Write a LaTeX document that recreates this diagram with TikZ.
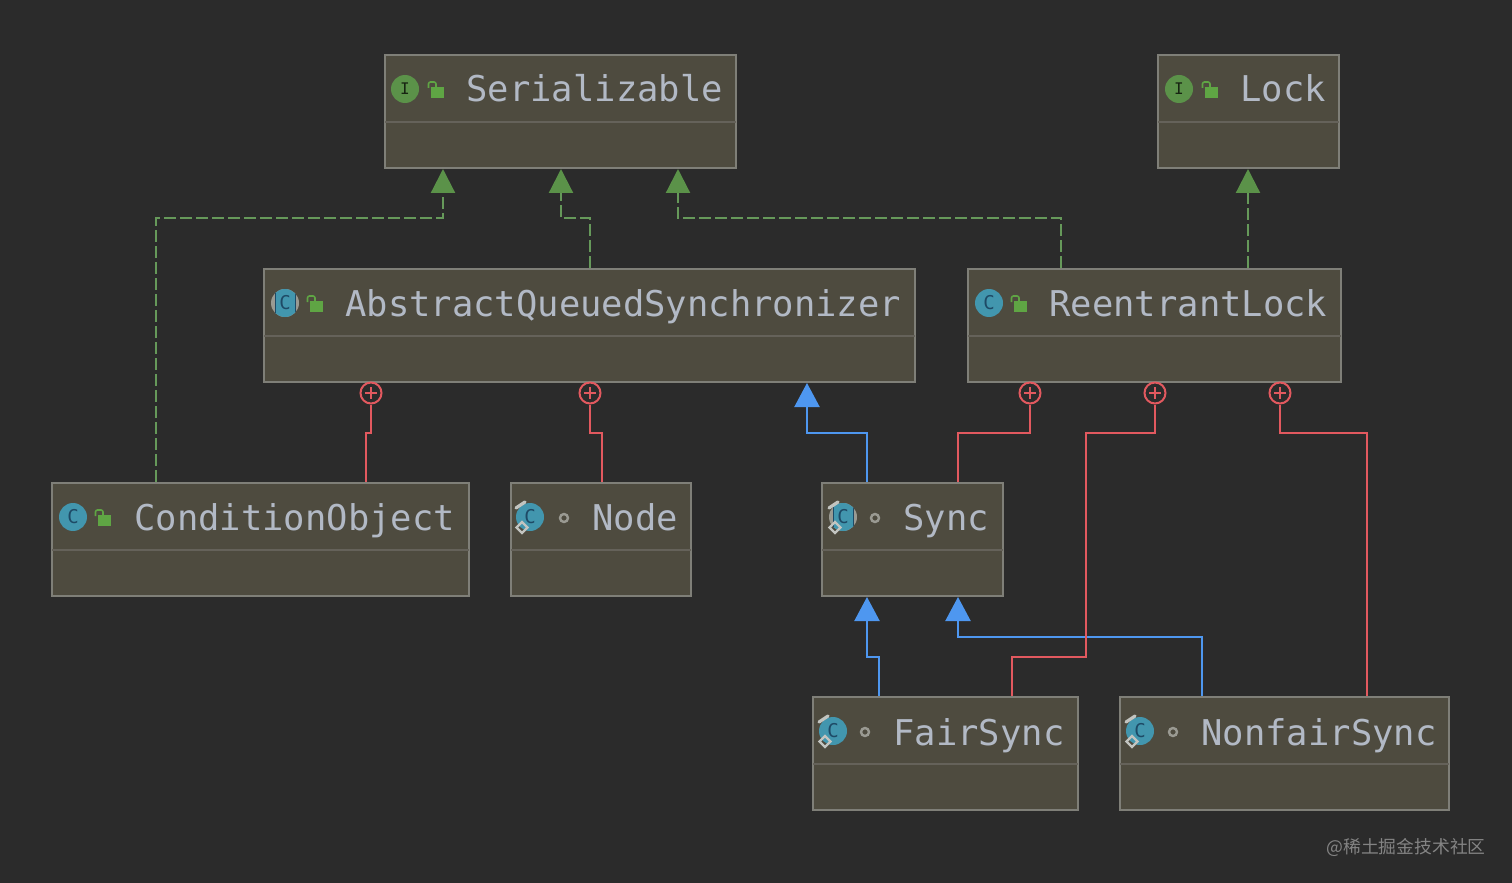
\documentclass[tikz,border=0pt]{standalone}
\usepackage{fontspec}
\setmonofont{DejaVu Sans Mono}
\newfontfamily\cjkfont{Noto Sans CJK SC}
\usetikzlibrary{arrows.meta, calc}
\definecolor{cBack}{HTML}{2B2B2B}
\definecolor{cBox}{HTML}{4E4B3F}
\definecolor{cBorder}{HTML}{7F7F78}
\definecolor{cDivider}{HTML}{65625A}
\definecolor{cText}{HTML}{B2B9C5}
\definecolor{cGreen}{HTML}{5B9249}
\definecolor{cDash}{HTML}{66995A}
\definecolor{cLock}{HTML}{5FA544}
\definecolor{cBlue}{HTML}{4E97F0}
\definecolor{cRed}{HTML}{E2595F}
\definecolor{cTeal}{HTML}{4296AE}
\definecolor{cLetter}{HTML}{1E4A66}
\definecolor{cRing}{HTML}{9A9A92}
\definecolor{cDeco}{HTML}{C2C4C0}
\tikzset{
  classbox/.style={draw=cBorder, fill=cBox, line width=1pt, anchor=north west,
    minimum height=56.5pt, inner sep=0pt},
  classname/.style={anchor=base west, inner sep=0pt, text=cText,
    font=\ttfamily\fontsize{17.75pt}{20pt}\selectfont},
  divider/.style={draw=cDivider, line width=0.7pt},
  implements/.style={draw=cDash, line width=1.1pt, dash pattern=on 6pt off 2pt,
    -{Triangle[length=12pt, width=12pt, fill=cGreen, color=cGreen]}},
  extends/.style={draw=cBlue, line width=1.1pt,
    -{Triangle[length=12pt, width=12.5pt, fill=cBlue]}},
  innerlink/.style={draw=cRed, line width=1.1pt},
  plusmark/.style={circle, draw=cRed, line width=1pt, minimum size=10.5pt, inner sep=0pt,
    path picture={\draw[cRed, line width=0.8pt]
      ($(path picture bounding box.center)+(-6,0)$) -- ($(path picture bounding box.center)+(6,0)$)
      ($(path picture bounding box.center)+(0,-6)$) -- ($(path picture bounding box.center)+(0,6)$);}},
  lockicon/.pic={
    \fill[cLock] (-6,-3) rectangle (7,8);
    \draw[cLock, line width=0.8pt, rounded corners=1pt] (-8.5,-2) -- (-8.5,-8) -- (-1,-8) -- (-1,-3);
  },
  staticicon/.pic={
    \draw[cRing, line width=1.2pt] (0,0) circle (4);
  },
  ifaceicon/.pic={
    \fill[cGreen] (0,0) circle (14);
    \node[inner sep=0pt, text=black!75!cGreen, font=\ttfamily\fontsize{8pt}{8pt}\selectfont] {I};
  },
  classicon/.pic={
    \fill[cTeal] (0,0) circle (14);
    \node[inner sep=0pt, text=cLetter, font=\ttfamily\fontsize{9.5pt}{9.5pt}\selectfont] {C};
  },
  abstracticon/.pic={
    \fill[cRing] (0,0) circle (14);
    \begin{scope}
      \clip (0,0) circle (14);
      \fill[cTeal] (-10,-14) rectangle (10,14);
      \draw[cLetter, line width=0.5pt] (-10,-14) -- (-10,14) (10,-14) -- (10,14);
    \end{scope}
    \node[inner sep=0pt, text=cLetter, font=\ttfamily\fontsize{9.5pt}{9.5pt}\selectfont] {C};
  },
  decoicon/.pic={
    \draw[cDeco, line width=1.1pt] (-8,5) -- (-2.5,10.5) -- (-8,16) -- (-13.5,10.5) -- cycle;
    \draw[cDeco, line width=1.6pt, line cap=round] (-14,-9) -- (-5,-15);
  },
}

\begin{document}
\begin{tikzpicture}[x=0.5pt, y=-0.5pt]

  \fill[cBack] (0,0) rectangle (1512,883);
  \useasboundingbox (0,0) rectangle (1512,883);

  % ---------- class boxes ----------
  \node[classbox, minimum width=175.5pt] (serial) at (384,54) {};
  \node[classbox, minimum width=90.5pt] (lock) at (1157,54) {};
  \node[classbox, minimum width=325.5pt] (aqs) at (263,268) {};
  \node[classbox, minimum width=186.5pt] (reentrant) at (967,268) {};
  \node[classbox, minimum width=208.5pt] (condobj) at (51,482) {};
  \node[classbox, minimum width=90pt] (nodecls) at (510,482) {};
  \node[classbox, minimum width=90.5pt] (sync) at (821,482) {};
  \node[classbox, minimum width=132.5pt] (fairsync) at (812,696) {};
  \node[classbox, minimum width=164.5pt] (nonfair) at (1119,696) {};

  \foreach \n in {serial, lock, aqs, reentrant, condobj, nodecls, sync, fairsync, nonfair}
    \draw[divider] ($(\n.west)+(1,10.5)$) -- ($(\n.east)+(-1,10.5)$);

  % ---------- names ----------
  \node[classname] (serialname) at (466,102) {Serializable};
  \node[classname] (lockname) at (1240,102) {Lock};
  \node[classname] (aqsname) at (345,316) {AbstractQueuedSynchronizer};
  \node[classname] (reentrantname) at (1049,316) {ReentrantLock};
  \node[classname] (condobjname) at (134,530) {ConditionObject};
  \node[classname] (nodename) at (592,530) {Node};
  \node[classname] (syncname) at (903,530) {Sync};
  \node[classname] (fairname) at (893,745) {FairSync};
  \node[classname] (nonfairname) at (1201,745) {NonfairSync};

  % ---------- icons ----------
  \pic at (405,89) {ifaceicon};
  \pic at (1179,89) {ifaceicon};
  \pic at (285,303) {abstracticon};
  \pic at (989,303) {classicon};
  \pic at (73,517) {classicon};
  \pic at (530,517) {classicon};
  \pic at (530,517) {decoicon};
  \pic at (843,517) {abstracticon};
  \pic at (843,517) {decoicon};
  \pic at (833,731) {classicon};
  \pic at (833,731) {decoicon};
  \pic at (1140,731) {classicon};
  \pic at (1140,731) {decoicon};

  \pic at (437,90) {lockicon};
  \pic at (1211,90) {lockicon};
  \pic at (316,304) {lockicon};
  \pic at (1020,304) {lockicon};
  \pic at (104,518) {lockicon};
  \pic at (564,518) {staticicon};
  \pic at (875,518) {staticicon};
  \pic at (865,732) {staticicon};
  \pic at (1173,732) {staticicon};

  % ---------- inner class marks ----------
  \node[plusmark] (plusa) at (371,393) {};
  \node[plusmark] (plusb) at (590,393) {};
  \node[plusmark] (plusc) at (1030,393) {};
  \node[plusmark] (plusd) at (1155,393) {};
  \node[plusmark] (pluse) at (1280,393) {};

  % ---------- arrows ----------
  \draw[implements] ($(condobj.north west)+(105,0)$) -- ++(0,-264) -- ++(287,0)
    -- ($(serial.south west)+(59,0)$);
  \draw[implements] ($(aqs.north west)+(327,0)$) -- ++(0,-50) -- ++(-29,0)
    -- ($(serial.south west)+(177,0)$);
  \draw[implements] ($(reentrant.north west)+(94,0)$) -- ++(0,-50) -- ++(-383,0)
    -- ($(serial.south west)+(294,0)$);
  \draw[implements] ($(reentrant.north west)+(281,0)$) -- ($(lock.south west)+(91,0)$);

  \draw[extends] ($(sync.north west)+(46,0)$) -- ++(0,-49) -- ++(-60,0)
    -- ($(aqs.south west)+(544,0)$);
  \draw[extends] ($(fairsync.north west)+(67,0)$) -- ++(0,-39) -- ++(-12,0)
    -- ($(sync.south west)+(46,0)$);
  \draw[extends] ($(nonfair.north west)+(83,0)$) -- ++(0,-59) -- ++(-244,0)
    -- ($(sync.south west)+(137,0)$);

  \draw[innerlink] ($(condobj.north west)+(315,0)$) -- ++(0,-49) -- ++(5,0) -- (plusa);
  \draw[innerlink] ($(nodecls.north west)+(92,0)$) -- ++(0,-49) -- ++(-12,0) -- (plusb);
  \draw[innerlink] ($(sync.north west)+(137,0)$) -- ++(0,-49) -- ++(72,0) -- (plusc);
  \draw[innerlink] ($(fairsync.north west)+(200,0)$) -- ++(0,-39) -- ++(74,0) -- ++(0,-224)
    -- ++(69,0) -- (plusd);
  \draw[innerlink] ($(nonfair.north west)+(248,0)$) -- ++(0,-263) -- ++(-87,0) -- (pluse);

  % ---------- watermark ----------
  \node[anchor=base east, inner sep=0pt, text=white!42!cBack, font=\cjkfont\fontsize{8.9pt}{10pt}\selectfont]
    (mark) at (1486,853) {@稀土掘金技术社区};

\end{tikzpicture}
\end{document}
